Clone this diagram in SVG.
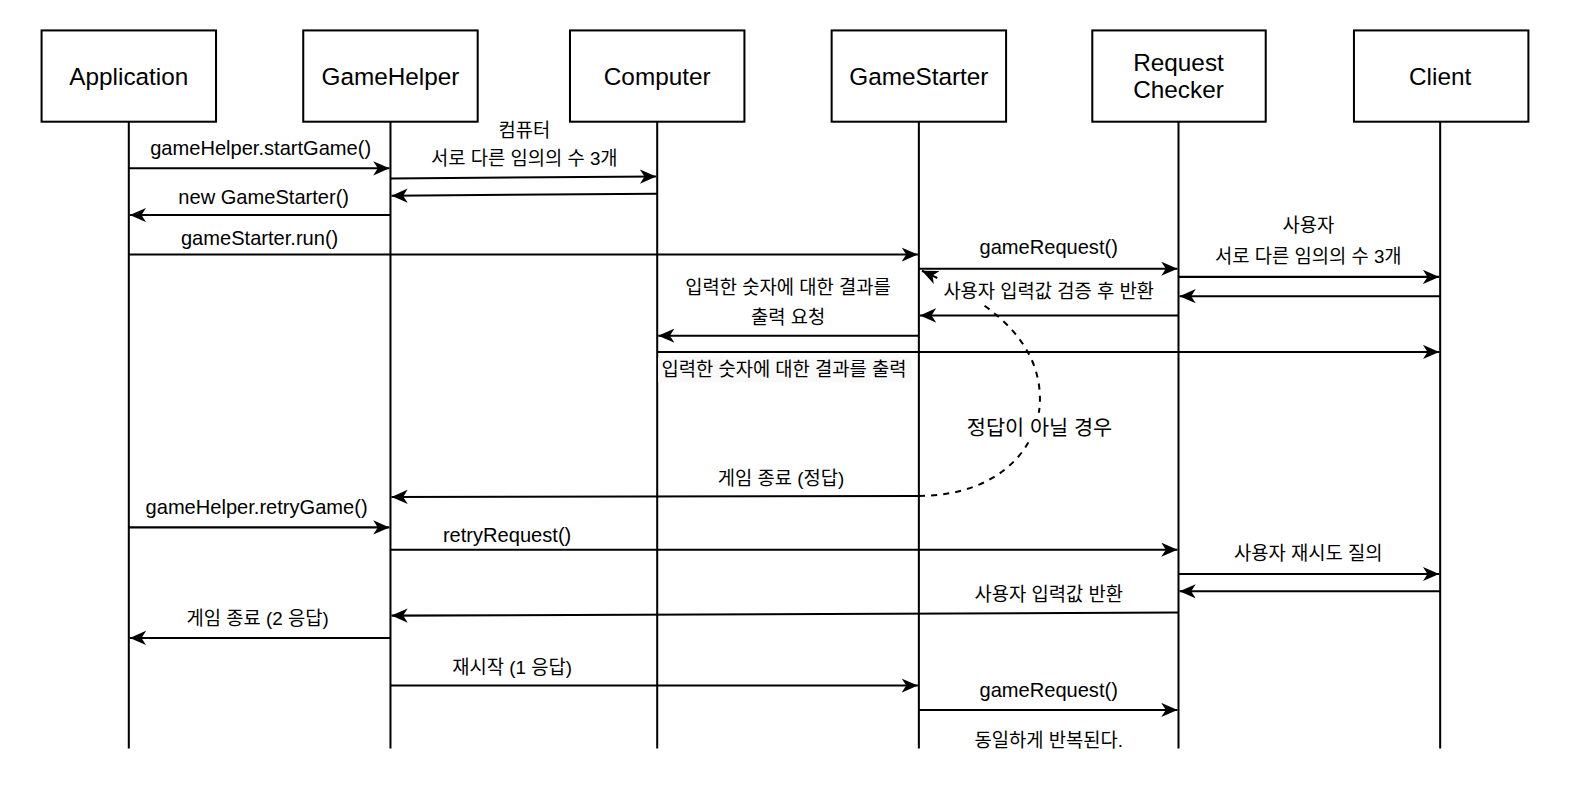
<svg xmlns="http://www.w3.org/2000/svg" width="1590" height="790" viewBox="0 0 1590 790">
<style>
  .box{fill:#fff;stroke:#000;stroke-width:2}
  .life{stroke:#000;stroke-width:2;fill:none}
  .msg{stroke:#000;stroke-width:2;fill:none;marker-end:url(#arr)}
  .dash{stroke:#000;stroke-width:2;fill:none;stroke-dasharray:6 6;marker-end:url(#arr)}
  .nt{font-family:"Liberation Sans","Noto Sans CJK KR",sans-serif;font-size:24px;fill:#000;text-anchor:middle}
  .lt{font-family:"Liberation Sans","Noto Sans CJK KR",sans-serif;font-size:19.8px;fill:#000;text-anchor:middle}
  .kt{font-family:"Liberation Sans","Noto Sans CJK KR",sans-serif;font-size:18.5px;fill:#000;text-anchor:middle}
</style>
<defs>
  <marker id="arr" markerUnits="userSpaceOnUse" markerWidth="20" markerHeight="16" refX="16" refY="7" orient="auto">
    <path d="M0,0 L16,7 L0,14 L4.5,7 Z" fill="#000"/>
  </marker>
</defs>
<rect width="1590" height="790" fill="#fff"/>
<g transform="scale(1.0142)">
<g id="lifelines">
  <line class="life" x1="127" y1="120" x2="127" y2="738"/>
  <line class="life" x1="385" y1="120" x2="385" y2="738"/>
  <line class="life" x1="648" y1="120" x2="648" y2="738"/>
  <line class="life" x1="906" y1="120" x2="906" y2="738"/>
  <line class="life" x1="1162" y1="120" x2="1162" y2="738"/>
  <line class="life" x1="1420" y1="120" x2="1420" y2="738"/>
</g>
<g id="node-application"><rect class="box" x="41" y="30" width="172" height="90"/><text class="nt" x="127" y="84">Application</text></g>
<g id="node-gamehelper"><rect class="box" x="299" y="30" width="172" height="90"/><text class="nt" x="385" y="84">GameHelper</text></g>
<g id="node-computer"><rect class="box" x="562" y="30" width="172" height="90"/><text class="nt" x="648" y="84">Computer</text></g>
<g id="node-gamestarter"><rect class="box" x="820" y="30" width="172" height="90"/><text class="nt" x="906" y="84">GameStarter</text></g>
<g id="node-requestchecker"><rect class="box" x="1077" y="30" width="171" height="90"/><text class="nt" x="1162" y="70">Request</text><text class="nt" x="1162" y="97">Checker</text></g>
<g id="node-client"><rect class="box" x="1335" y="30" width="172" height="90"/><text class="nt" x="1420" y="84">Client</text></g>
<g id="connectors">
  <line class="msg" x1="127" y1="166" x2="384" y2="166"/>
  <line class="msg" x1="385" y1="176" x2="647" y2="174"/>
  <line class="msg" x1="648" y1="191" x2="386" y2="193"/>
  <line class="msg" x1="385" y1="212" x2="128" y2="212"/>
  <line class="msg" x1="127" y1="251" x2="905" y2="251"/>
  <line class="msg" x1="906" y1="265" x2="1161" y2="265"/>
  <line class="msg" x1="1162" y1="273" x2="1419" y2="273"/>
  <line class="msg" x1="1420" y1="292" x2="1163" y2="292"/>
  <line class="msg" x1="1162" y1="311" x2="907" y2="311"/>
  <line class="msg" x1="906" y1="331" x2="649" y2="331"/>
  <line class="msg" x1="648" y1="347" x2="1419" y2="347"/>
  <line class="msg" x1="906" y1="489" x2="386" y2="490"/>
  <path class="dash" d="M906,489 C985,489 1030,440 1025,385 C1020,325 960,290 909,267"/>
  <line class="msg" x1="127" y1="520" x2="384" y2="520"/>
  <line class="msg" x1="385" y1="542" x2="1161" y2="542"/>
  <line class="msg" x1="1162" y1="566" x2="1419" y2="566"/>
  <line class="msg" x1="1420" y1="583" x2="1163" y2="583"/>
  <line class="msg" x1="1162" y1="604" x2="386" y2="607"/>
  <line class="msg" x1="385" y1="629" x2="128" y2="629"/>
  <line class="msg" x1="385" y1="676" x2="905" y2="676"/>
  <line class="msg" x1="906" y1="700" x2="1161" y2="700"/>
</g>
<g id="labels">
  <text class="lt" x="257" y="153">gameHelper.startGame()</text>
  <text class="kt" x="517" y="135">컴퓨터</text>
  <text class="kt" x="517" y="163">서로 다른 임의의 수 3개</text>
  <text class="lt" x="260" y="201">new GameStarter()</text>
  <text class="lt" x="256" y="242">gameStarter.run()</text>
  <text class="lt" x="1034" y="250">gameRequest()</text>
  <text class="kt" x="1290" y="229">사용자</text>
  <text class="kt" x="1290" y="259">서로 다른 임의의 수 3개</text>
  <rect x="926" y="275" width="216" height="24" fill="#fff"/>
  <text class="kt" x="1034" y="294">사용자 입력값 검증 후 반환</text>
  <text class="kt" x="777" y="290">입력한 숫자에 대한 결과를</text>
  <text class="kt" x="777" y="319">출력 요청</text>
  <rect x="649" y="352" width="250" height="25" fill="#f9f9f9"/>
  <text class="kt" x="773" y="371">입력한 숫자에 대한 결과를 출력</text>
  <rect x="949" y="407" width="152" height="29" fill="#fff"/>
  <text class="kt" x="1025" y="429" style="font-size:20.5px">정답이 아닐 경우</text>
  <text class="kt" x="770" y="478">게임 종료 (정답)</text>
  <text class="lt" x="253" y="507">gameHelper.retryGame()</text>
  <text class="lt" x="500" y="534">retryRequest()</text>
  <text class="kt" x="1290" y="552">사용자 재시도 질의</text>
  <text class="kt" x="1034" y="593">사용자 입력값 반환</text>
  <text class="kt" x="254" y="616">게임 종료 (2 응답)</text>
  <text class="kt" x="505" y="665">재시작 (1 응답)</text>
  <text class="lt" x="1034" y="687">gameRequest()</text>
  <text class="kt" x="1034" y="737">동일하게 반복된다.</text>
</g>
</g>
</svg>
